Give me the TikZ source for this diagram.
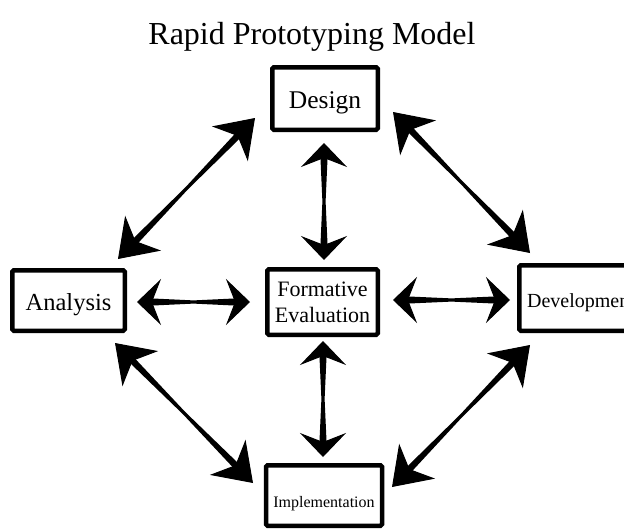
\documentclass[tikz,border=0pt]{standalone}
\usepackage{fontspec}
\setmainfont{Liberation Serif}
\usetikzlibrary{arrows.meta,calc}

% Double-headed arrow with a shaft that narrows towards its middle.
% #1, #2: tip coordinates; #3: arrow tip style
\newcommand\biarrow[3]{%
  \coordinate (tmpm) at ($(#1)!.5!(#2)$);
  \coordinate (tmpa) at ($(#1)!14pt!(#2)$);
  \coordinate (tmpb) at ($(#2)!14pt!(#1)$);
  \fill ($(tmpa)!3.6pt!90:(#2)$) -- ($(tmpm)!1.6pt!90:(#2)$)
     -- ($(tmpb)!3.6pt!-90:(#1)$) -- ($(tmpb)!3.6pt!90:(#1)$)
     -- ($(tmpm)!1.6pt!-90:(#2)$) -- ($(tmpa)!3.6pt!-90:(#2)$) -- cycle;
  \draw[line width=1pt, #3] (#1) -- (#2);
}

\begin{document}
\begin{tikzpicture}[x=1pt,y=-1pt,
  box/.style={draw=black, line width=4.5pt, inner sep=0pt, rounded corners=1.5pt},
  label/.style={font=\fontsize{24.5}{26}\selectfont, text height=19pt, text depth=0pt},
  bighead/.style={{Stealth[length=36pt,width=50pt,inset=11pt]}-{Stealth[length=36pt,width=50pt,inset=11pt]}},
  smallhead/.style={{Stealth[length=24pt,width=46pt,inset=9pt]}-{Stealth[length=24pt,width=46pt,inset=9pt]}}]
\useasboundingbox (0,0) rectangle (624,530);
\clip (0,0) rectangle (624,530);

\node[font=\fontsize{32}{32}\selectfont, anchor=base] (title) at (312,44) {Rapid Prototyping Model};

% phase boxes
\node[box, label, font=\fontsize{25.5}{26}\selectfont, minimum width=105.5pt, minimum height=62.5pt] (design) at (325,98.5) {Design};
\node[box, label, minimum width=112.5pt, minimum height=60.5pt] (analysis) at (68.5,300.5) {Analysis};
\node[box, align=center, font=\fontsize{22}{26}\selectfont, minimum width=110.5pt, minimum height=65.5pt] (formative) at (322.5,302) {Formative\\Evaluation};
\node[box, font=\fontsize{20}{22}\selectfont, text height=18pt, text depth=0pt, minimum width=123.5pt, minimum height=65.5pt] (development) at (581,298) {Development};
\node[box, font=\fontsize{16}{18}\selectfont, text height=23pt, text depth=0pt, minimum width=116pt, minimum height=60.5pt] (implementation) at (324,495.5) {Implementation};

% arrow tips
\coordinate (da1) at (255,118);  \coordinate (da2) at (118,259);
\coordinate (dd1) at (393,112);  \coordinate (dd2) at (530,253);
\coordinate (df1) at (324,143);  \coordinate (df2) at (324,260);
\coordinate (af1) at (137,302);  \coordinate (af2) at (250,302);
\coordinate (fd1) at (393,300);  \coordinate (fd2) at (510,300);
\coordinate (fi1) at (323,341);  \coordinate (fi2) at (323,457);
\coordinate (ai1) at (115,343);  \coordinate (ai2) at (253,483);
\coordinate (di1) at (530,345);  \coordinate (di2) at (392,487);

\biarrow{da1}{da2}{bighead}
\biarrow{dd1}{dd2}{bighead}
\biarrow{ai1}{ai2}{bighead}
\biarrow{di1}{di2}{bighead}
\biarrow{df1}{df2}{smallhead}
\biarrow{af1}{af2}{smallhead}
\biarrow{fd1}{fd2}{smallhead}
\biarrow{fi1}{fi2}{smallhead}
\end{tikzpicture}
\end{document}
